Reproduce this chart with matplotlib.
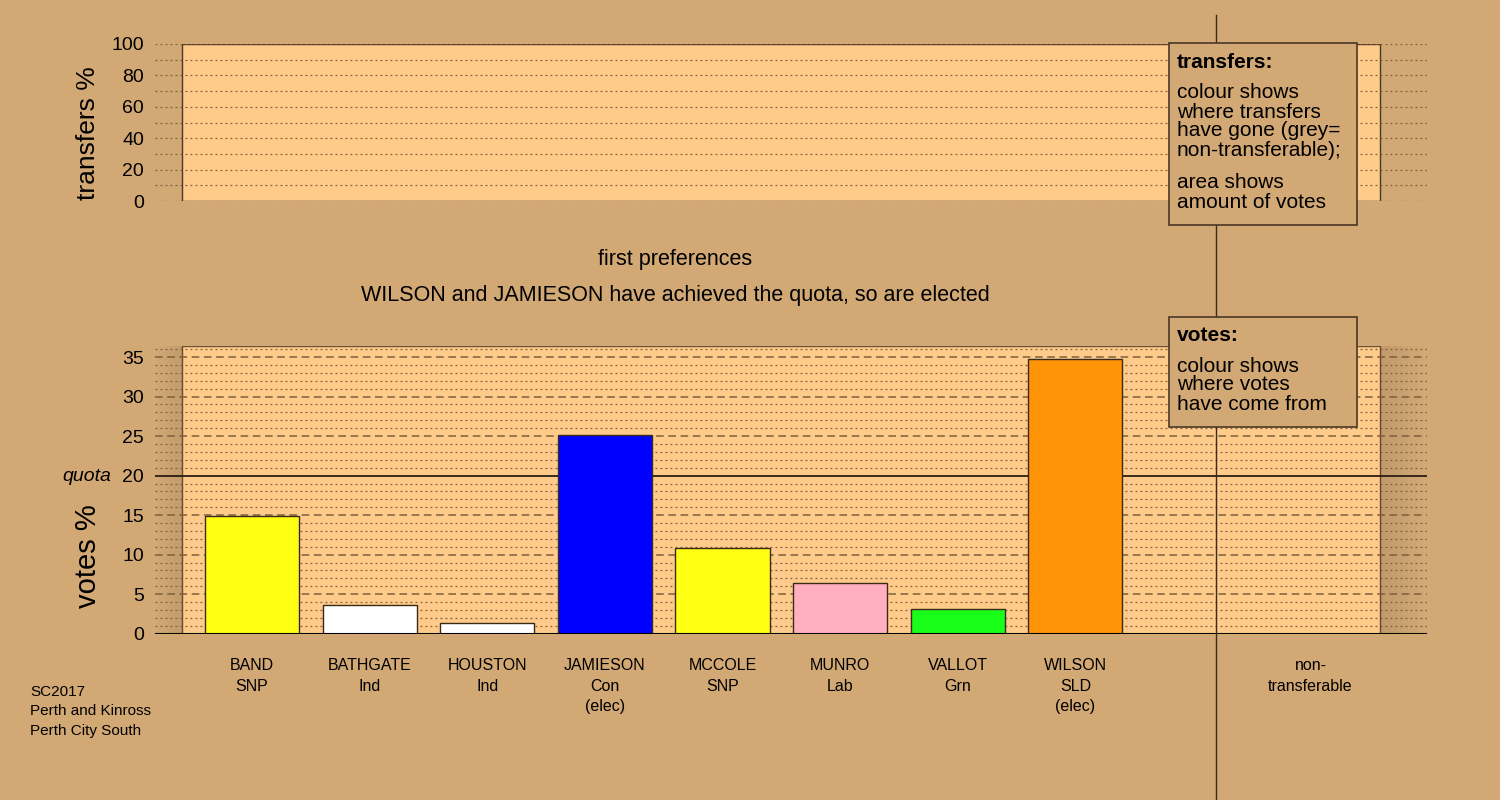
import numpy as np
import matplotlib.pyplot as plt
from matplotlib.patches import Rectangle
from matplotlib.lines import Line2D

plt.rcParams['font.family'] = ['Liberation Sans', 'DejaVu Sans']

# first preference results
candidates = ['BAND', 'BATHGATE', 'HOUSTON', 'JAMIESON', 'MCCOLE', 'MUNRO', 'VALLOT', 'WILSON']
parties = ['SNP', 'Ind', 'Ind', 'Con', 'SNP', 'Lab', 'Grn', 'SLD']
elected = [False, False, False, True, False, False, False, True]
votes = [14.9, 3.6, 1.4, 25.2, 10.8, 6.4, 3.1, 34.7]
colours = ['#ffff14', '#ffffff', '#ffffff', '#0000ff', '#ffff14', '#ffafbf', '#1aff1a', '#ff9408']
quota = 20
nontrans_label = 'non-\ntransferable'

bg = '#d2a875'
panel = '#ffcb8a'
edge = '#4b3826'
grid_c = '#7d5f3c'

fig = plt.figure(figsize=(15, 8), dpi=100)
fig.patch.set_facecolor(bg)

def fx(px):
    return px / 1500

def fy(py):
    return 1 - py / 800

xl = (-0.825, 9.99)
rect_x0, rect_x1 = -0.595, 9.592

# top panel: transfers (empty at first stage)
ax1 = fig.add_axes([fx(155), fy(201), 1272/1500, 157/800])
ax1.set_facecolor('none')
ax1.set_xlim(*xl)
ax1.set_ylim(0, 100)
ax1.add_patch(Rectangle((rect_x0, 0), rect_x1-rect_x0, 100, facecolor=panel,
                        edgecolor=edge, lw=1, zorder=0))
for y in range(0, 101, 10):
    ax1.axhline(y, color=grid_c, lw=0.9, ls=(0, (1.5, 2.5)), zorder=1)
ax1.set_yticks(range(0, 101, 20))
ax1.set_xticks([])
ax1.tick_params(axis='y', length=0, labelsize=14, pad=8)
for s in ax1.spines.values():
    s.set_visible(False)
fig.text(fx(88), fy(133), 'transfers %', rotation=90, fontsize=19,
         ha='center', va='center')

# bottom panel: votes
ax2 = fig.add_axes([fx(155), fy(633.7), 1272/1500, 287.7/800])
ax2.set_facecolor('none')
ax2.add_patch(Rectangle((rect_x0, 0), rect_x1-rect_x0, 36.4, facecolor=panel,
                        edgecolor='#6b5035', lw=1, zorder=0))
# soft shadow either side of the panel
grad = np.linspace(0, 1, 64).reshape(1, -1)
shade = np.zeros((1, 64, 4))
shade[..., 3] = 0.08 * grad
ax2.imshow(shade, extent=(xl[0], rect_x0, 0, 36.4), aspect='auto', zorder=0.5)
ax2.imshow(shade[:, ::-1], extent=(rect_x1, xl[1], 0, 36.4), aspect='auto', zorder=0.5)
ax2.set_xlim(*xl)
ax2.set_ylim(0, 36.4)
for y in range(1, 37):
    if y == quota:
        continue
    if y % 5 == 0:
        ax2.axhline(y, color=grid_c, lw=1.1, ls=(0, (5, 3)), zorder=1)
    else:
        ax2.axhline(y, color=grid_c, lw=0.9, ls=(0, (1.5, 2.5)), zorder=1)
ax2.axhline(quota, color='#2a1e12', lw=1.3, zorder=1.5)
ax2.axhline(0, color='black', lw=1.5, zorder=3)

x = np.arange(len(candidates))
ax2.bar(x, votes, width=0.8, color=colours, edgecolor='#3a2a1a', lw=1, zorder=2)

ax2.set_yticks(range(0, 36, 5))
ax2.set_xticks([])
ax2.tick_params(axis='y', length=0, labelsize=14, pad=8)
for s in ax2.spines.values():
    s.set_visible(False)
fig.text(fx(111), fy(477), 'quota', ha='right', va='center', fontsize=14, style='italic')
fig.text(fx(88), fy(556), 'votes %', rotation=90, fontsize=21,
         ha='center', va='center')

for i, (c, p, e) in enumerate(zip(candidates, parties, elected)):
    lab = c + '\n' + p + ('\n(elec)' if e else '')
    ax2.text(i, -3.1, lab, ha='center', va='top', fontsize=11.5, linespacing=1.45,
             clip_on=False)
ax2.text(len(candidates) + 1, -3.1, nontrans_label, ha='center', va='top',
         fontsize=11.5, linespacing=1.45, clip_on=False)

# titles
fig.text(fx(675), fy(259), 'first preferences', ha='center', va='center', fontsize=15.5)
fig.text(fx(675), fy(296), 'WILSON and JAMIESON have achieved the quota, so are elected',
         ha='center', va='center', fontsize=15.5)

# separator line for non-transferable column
fig.add_artist(Line2D([fx(1216), fx(1216)], [0, fy(15)], color='#3a2a1a', lw=1, zorder=5))

# explanation boxes
def note_box(top, bottom, title, lines):
    fig.add_artist(Rectangle((fx(1169), fy(bottom)), 188/1500, (bottom-top)/800,
                             facecolor=bg, edgecolor='#4b3826', lw=1.2, zorder=6,
                             transform=fig.transFigure))
    fig.text(fx(1177), fy(title[1]), title[0], fontsize=15, weight='bold',
             va='center', zorder=7)
    for txt, py in lines:
        fig.text(fx(1177), fy(py), txt, fontsize=15, va='center', zorder=7)

note_box(43, 225, ('transfers:', 62),
         [('colour shows', 93), ('where transfers', 112), ('have gone (grey=', 131),
          ('non-transferable);', 150), ('area shows', 183), ('amount of votes', 202)])
note_box(317, 427, ('votes:', 336),
         [('colour shows', 366), ('where votes', 385), ('have come from', 405)])

fig.text(fx(30), fy(711), 'SC2017\nPerth and Kinross\nPerth City South', fontsize=11,
         va='center', linespacing=1.5)

fig.savefig('out.png', dpi=100, facecolor=bg)
